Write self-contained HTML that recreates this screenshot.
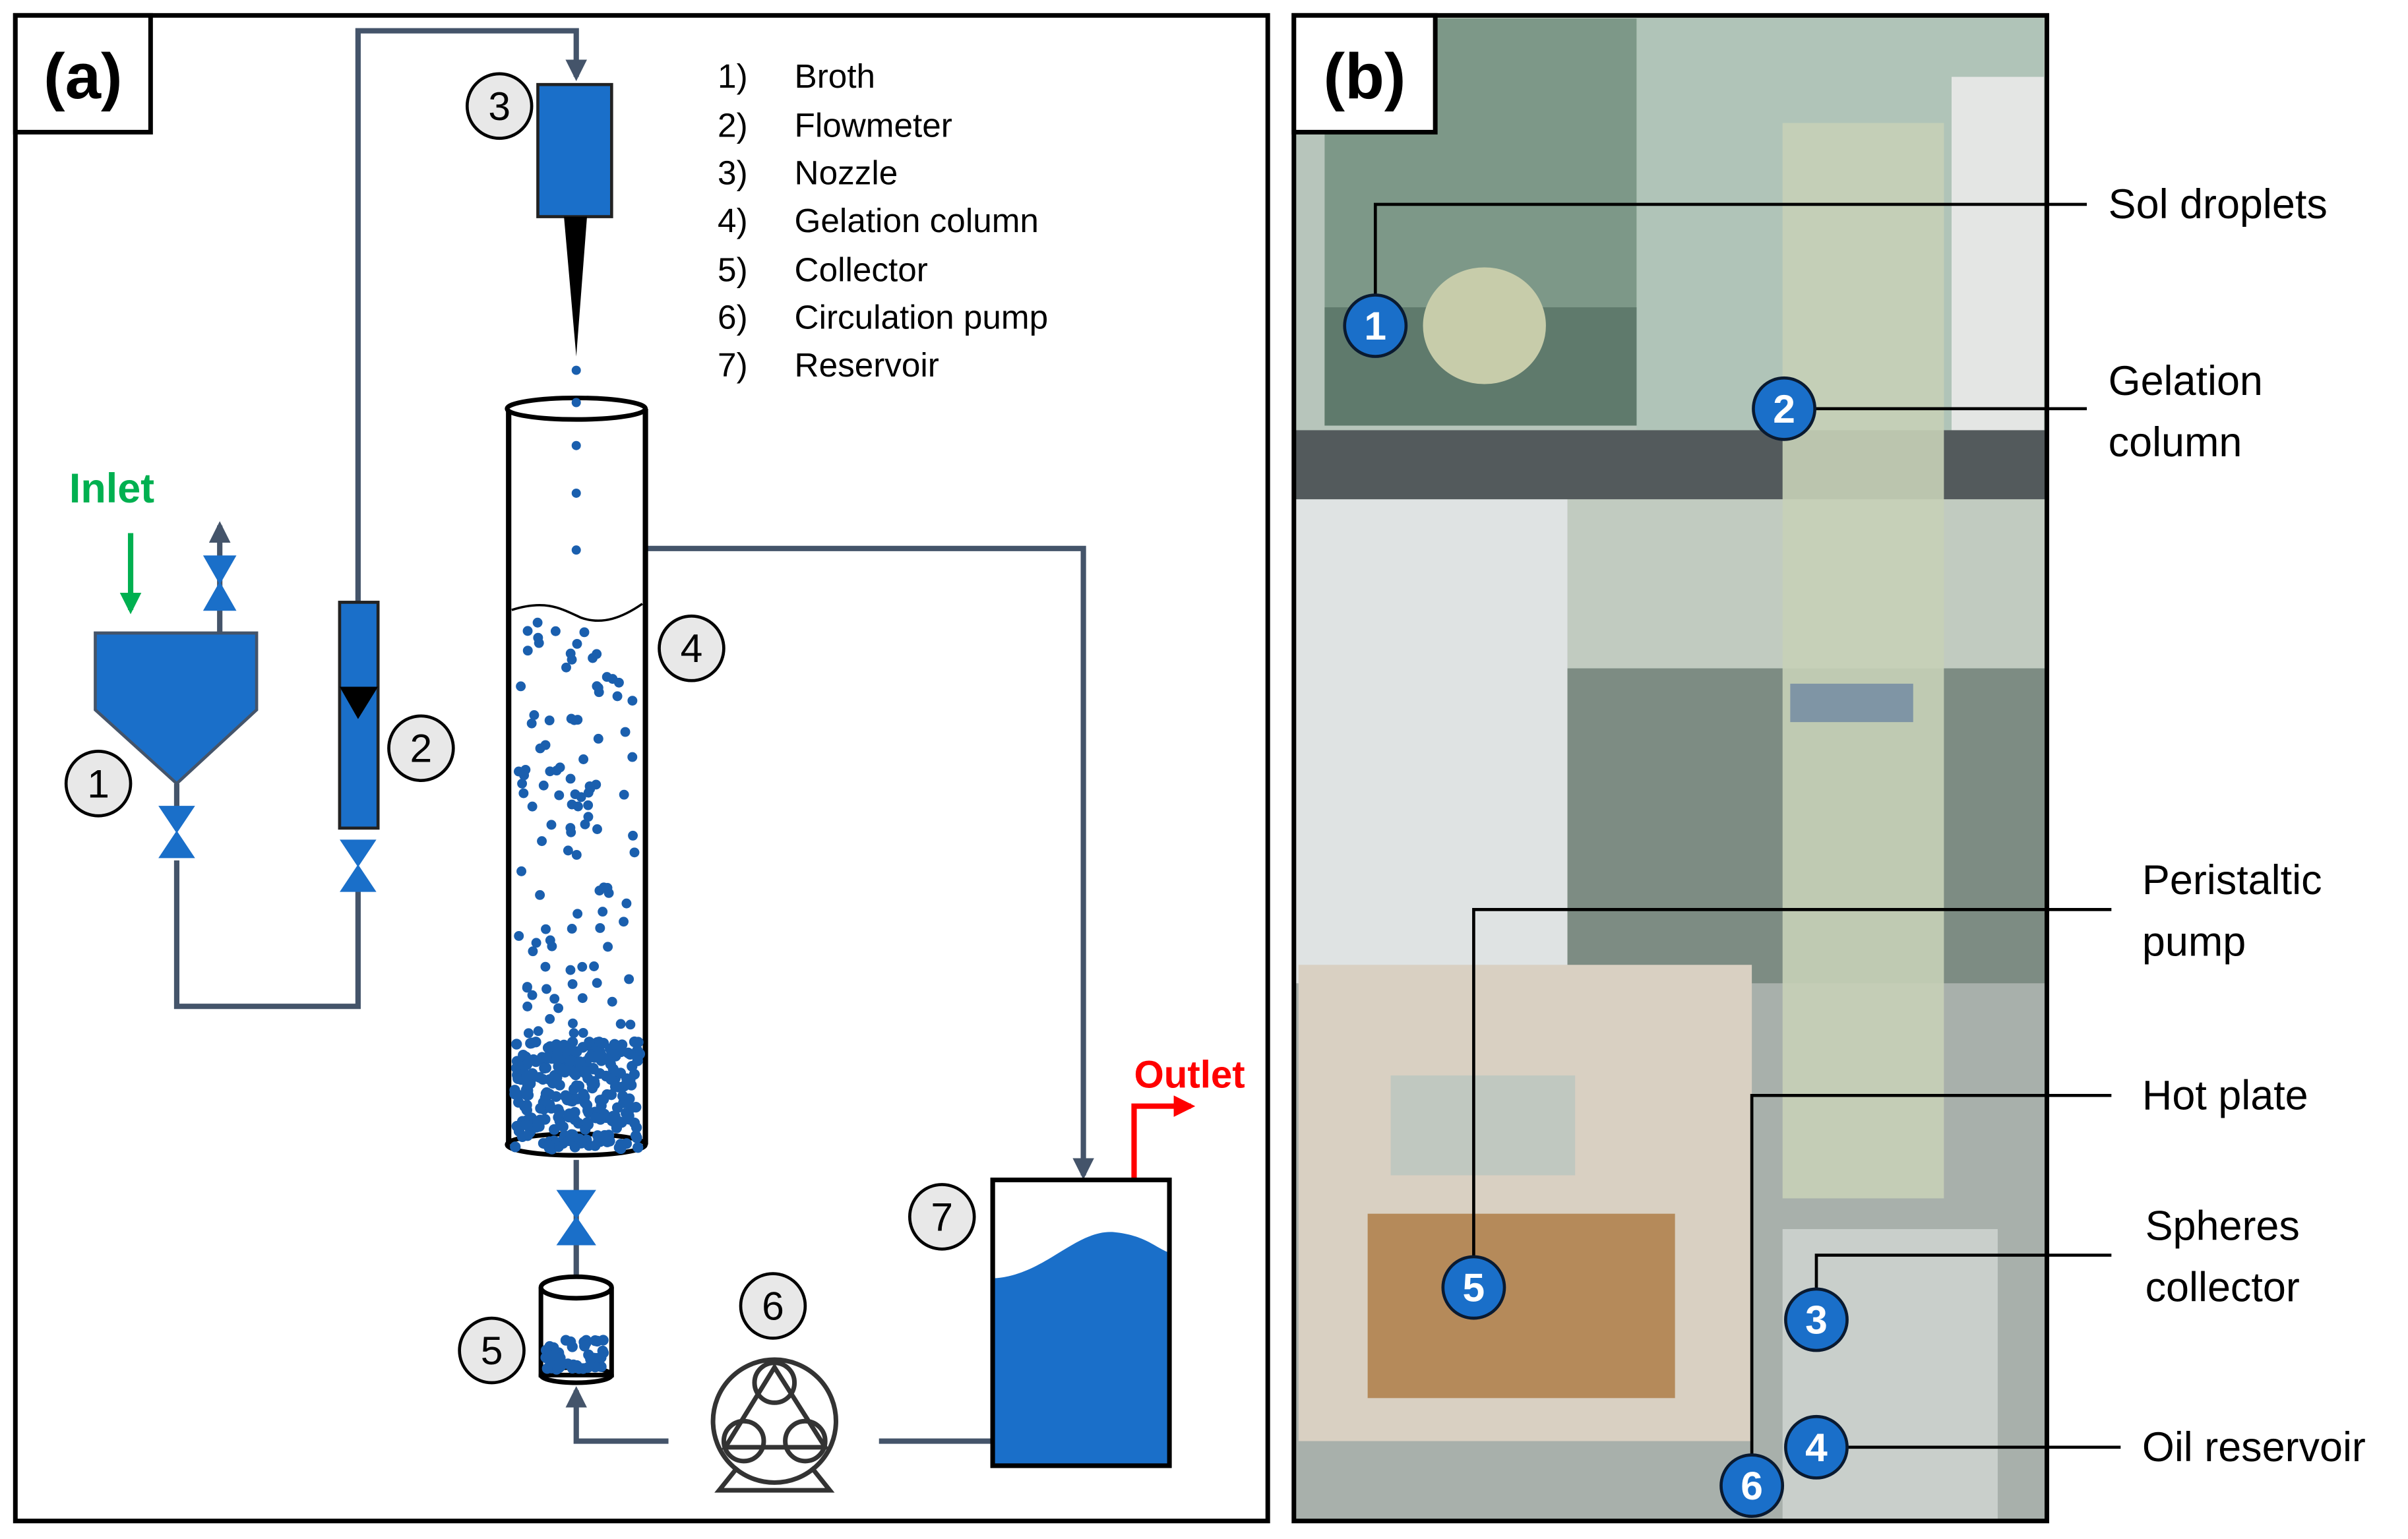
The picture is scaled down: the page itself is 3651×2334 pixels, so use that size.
<!DOCTYPE html>
<html><head><meta charset="utf-8"><style>
html,body{margin:0;padding:0;background:#fff;}
svg{display:block;}
text{font-family:"Liberation Sans","DejaVu Sans",sans-serif;}
</style></head><body>
<svg id="s" width="3651" height="2334" viewBox="0 0 1567 1001.7" xmlns="http://www.w3.org/2000/svg">
<defs>
<marker id="ar" viewBox="0 0 10 10" refX="8" refY="5" markerWidth="4" markerHeight="4" orient="auto"><path d="M0,0L10,5L0,10z" fill="#44546a"/></marker>
<marker id="arr" viewBox="0 0 10 10" refX="8" refY="5" markerWidth="4" markerHeight="4" orient="auto"><path d="M0,0L10,5L0,10z" fill="#ff0000"/></marker>
<marker id="arg" viewBox="0 0 10 10" refX="8" refY="5" markerWidth="4" markerHeight="4" orient="auto"><path d="M0,0L10,5L0,10z" fill="#00b050"/></marker>
</defs>
<rect x="10" y="10" width="815" height="980" fill="#fff" stroke="#000" stroke-width="3"/>
<rect x="10" y="10" width="88" height="76" fill="#fff" stroke="#000" stroke-width="3"/>
<text x="54" y="64" font-size="42" font-weight="bold" text-anchor="middle">(a)</text>
<g font-size="22" fill="#000">
<text x="467" y="57">1)</text><text x="517" y="57">Broth</text>
<text x="467" y="89">2)</text><text x="517" y="89">Flowmeter</text>
<text x="467" y="120">3)</text><text x="517" y="120">Nozzle</text>
<text x="467" y="151">4)</text><text x="517" y="151">Gelation column</text>
<text x="467" y="183">5)</text><text x="517" y="183">Collector</text>
<text x="467" y="214">6)</text><text x="517" y="214">Circulation pump</text>
<text x="467" y="245">7)</text><text x="517" y="245">Reservoir</text>
</g>
<g fill="none" stroke="#44546a" stroke-width="3.5">
<polyline points="115,560 115,655 233,655 233,580"/>
<polyline points="233,392 233,20 375,20 375,50" marker-end="url(#ar)"/>
<polyline points="420,357 705,357 705,765" marker-end="url(#ar)"/>
<line x1="143" y1="412" x2="143" y2="342" marker-end="url(#ar)"/>
<line x1="115" y1="510" x2="115" y2="525"/>
<line x1="375" y1="755" x2="375" y2="830"/>
<polyline points="435,938 375,938 375,905" marker-end="url(#ar)"/>
<line x1="572" y1="938" x2="646" y2="938"/>
</g>
<line x1="85" y1="347" x2="85" y2="397" stroke="#00b050" stroke-width="3.5" marker-end="url(#arg)"/>
<text x="45" y="327" font-size="27" font-weight="bold" fill="#00b050">Inlet</text>
<polyline points="738,768 738,720 775,720" fill="none" stroke="#ff0000" stroke-width="3.5" marker-end="url(#arr)"/>
<text x="738" y="708" font-size="25" font-weight="bold" fill="#ff0000">Outlet</text>
<path d="M62,412 H167 V462 L115,510 L62,462 Z" fill="#1a6fc9" stroke="#44546a" stroke-width="2"/>
<g fill="#1a6fc9" stroke="#1a6fc9" stroke-width="1">
<path d="M133,362 L153,362 L133,397 L153,397 Z"/>
<path d="M104,525 L126,525 L104,558 L126,558 Z"/>
<path d="M222,547 L244,547 L222,580 L244,580 Z"/>
<path d="M363,775 L387,775 L363,810 L387,810 Z"/>
</g>
<rect x="221" y="392" width="25" height="147" fill="#1a6fc9" stroke="#222" stroke-width="2"/>
<path d="M221,447 H246 L233,468 Z" fill="#000"/>
<rect x="350" y="55" width="48" height="86" fill="#1a6fc9" stroke="#222" stroke-width="2"/>
<path d="M367,141 H382 L375,232 Z" fill="#000"/>
<line x1="331" y1="266" x2="331" y2="745" stroke="#000" stroke-width="3.5"/>
<line x1="420" y1="266" x2="420" y2="745" stroke="#000" stroke-width="3.5"/>
<ellipse cx="375" cy="266" rx="45" ry="7" fill="#fff" stroke="#000" stroke-width="3"/>
<ellipse cx="375" cy="745" rx="45" ry="7" fill="none" stroke="#000" stroke-width="3"/>
<path d="M333,397 C355,390 365,396 378,402 C392,407 405,402 418,393" fill="none" stroke="#000" stroke-width="1.5"/>
<g id="dots" fill="#1a5fae"></g>
<path d="M352,838 V895 H398 V838" fill="#fff" stroke="#000" stroke-width="3"/>
<ellipse cx="375" cy="838" rx="23" ry="7" fill="#fff" stroke="#000" stroke-width="3"/>
<ellipse cx="375" cy="895" rx="23" ry="5" fill="none" stroke="#000" stroke-width="3"/>
<g id="cdots" fill="#1a5fae"></g>
<g fill="none" stroke="#333" stroke-width="3">
<circle cx="504" cy="925" r="40"/>
<path d="M504,890 L472,942 L537,942 Z"/>
<circle cx="504" cy="900" r="13"/><circle cx="484" cy="938" r="13"/><circle cx="524" cy="938" r="13"/>
<path d="M480,955 L468,970 H540 L528,955"/>
</g>
<rect x="646" y="768" width="115" height="186" fill="#fff" stroke="#000" stroke-width="3"/>
<path d="M647,832 C680,830 700,800 725,802 C745,804 752,812 760,815 V953 H647 Z" fill="#1a6fc9"/>
<rect x="646" y="768" width="115" height="186" fill="none" stroke="#000" stroke-width="3"/>
<g font-size="26" text-anchor="middle" fill="#000">
<g fill="#e8e8e8" stroke="#000" stroke-width="2">
<circle cx="64" cy="510" r="21"/><circle cx="274" cy="487" r="21"/><circle cx="325" cy="69" r="21"/>
<circle cx="450" cy="422" r="21"/><circle cx="320" cy="879" r="21"/><circle cx="503" cy="850" r="21"/><circle cx="613" cy="792" r="21"/>
</g>
<text x="64" y="519">1</text><text x="274" y="496">2</text><text x="325" y="78">3</text>
<text x="450" y="431">4</text><text x="320" y="888">5</text><text x="503" y="859">6</text><text x="613" y="801">7</text>
</g>
<rect x="842" y="10" width="490" height="980" fill="#b7c5bb"/>
<rect x="1065" y="12" width="265" height="280" fill="#b0c4b8"/>
<rect x="1270" y="50" width="60" height="230" fill="#e4e6e4"/>
<rect x="862" y="12" width="203" height="265" fill="#7d9888"/>
<rect x="862" y="200" width="203" height="77" fill="#5f7a6c"/>
<ellipse cx="966" cy="212" rx="40" ry="38" fill="#c7ccaa"/>
<rect x="842" y="280" width="490" height="45" fill="#535a5c"/>
<rect x="842" y="325" width="178" height="320" fill="#dfe3e3"/>
<rect x="1020" y="325" width="312" height="110" fill="#c1cbc0"/>
<rect x="1020" y="435" width="312" height="420" fill="#7d8c83"/>
<rect x="842" y="640" width="490" height="350" fill="#a8b0ab"/>
<rect x="1160" y="80" width="105" height="700" fill="#c6d0b7" opacity="0.9"/>
<rect x="1165" y="445" width="80" height="25" fill="#7f95a5"/>
<rect x="845" y="628" width="295" height="310" fill="#d9d0c2"/>
<rect x="890" y="790" width="200" height="120" fill="#b58a5a"/>
<rect x="905" y="700" width="120" height="65" fill="#c0c8c0"/>
<rect x="1160" y="800" width="140" height="190" fill="#c9cfcb"/>
<rect x="842" y="10" width="490" height="980" fill="none" stroke="#000" stroke-width="3"/>
<rect x="842" y="10" width="92" height="76" fill="#fff" stroke="#000" stroke-width="3"/>
<text x="888" y="64" font-size="42" font-weight="bold" text-anchor="middle">(b)</text>
<g fill="none" stroke="#000" stroke-width="2">
<polyline points="895,212 895,133 1358,133"/>
<line x1="1161" y1="266" x2="1358" y2="266"/>
<polyline points="959,838 959,592 1374,592"/>
<polyline points="1140,967 1140,713 1374,713"/>
<polyline points="1182,859 1182,817 1374,817"/>
<line x1="1182" y1="942" x2="1380" y2="942"/>
</g>
<g font-size="26" text-anchor="middle" fill="#fff" font-weight="bold">
<g fill="#1a6fc9" stroke="#0a1a30" stroke-width="2">
<circle cx="895" cy="212" r="20"/><circle cx="1161" cy="266" r="20"/><circle cx="1182" cy="859" r="20"/>
<circle cx="1182" cy="942" r="20"/><circle cx="959" cy="838" r="20"/><circle cx="1140" cy="967" r="20"/>
</g>
<text x="895" y="221">1</text><text x="1161" y="275">2</text><text x="1182" y="868">3</text>
<text x="1182" y="951">4</text><text x="959" y="847">5</text><text x="1140" y="976">6</text>
</g>
<g font-size="27" fill="#000">
<text x="1372" y="142">Sol droplets</text>
<text x="1372" y="257">Gelation</text><text x="1372" y="297">column</text>
<text x="1394" y="582">Peristaltic</text><text x="1394" y="622">pump</text>
<text x="1394" y="722">Hot plate</text>
<text x="1396" y="807">Spheres</text><text x="1396" y="847">collector</text>
<text x="1394" y="951">Oil reservoir</text>
</g>
</svg>
<script>
(function(){
var ns='http://www.w3.org/2000/svg',s=7;
function r(){s=(s*9301+49297)%233280;return s/233280;}
function d(g,x,y,rad){var c=document.createElementNS(ns,'circle');c.setAttribute('cx',x);c.setAttribute('cy',y);c.setAttribute('r',rad);g.appendChild(c);}
var g=document.getElementById('dots'),h=document.getElementById('cdots');
[241,262,290,321,358].forEach(function(y){d(g,375,y,3);});
for(var i=0;i<110;i++){d(g,337+r()*78,405+r()*270,3.2);}
for(var i=0;i<280;i++){d(g,335+r()*82,678+r()*70,3.5);}
for(var i=0;i<45;i++){d(h,355+r()*38,872+r()*20,3.5);}
})();
</script>
</body></html>
